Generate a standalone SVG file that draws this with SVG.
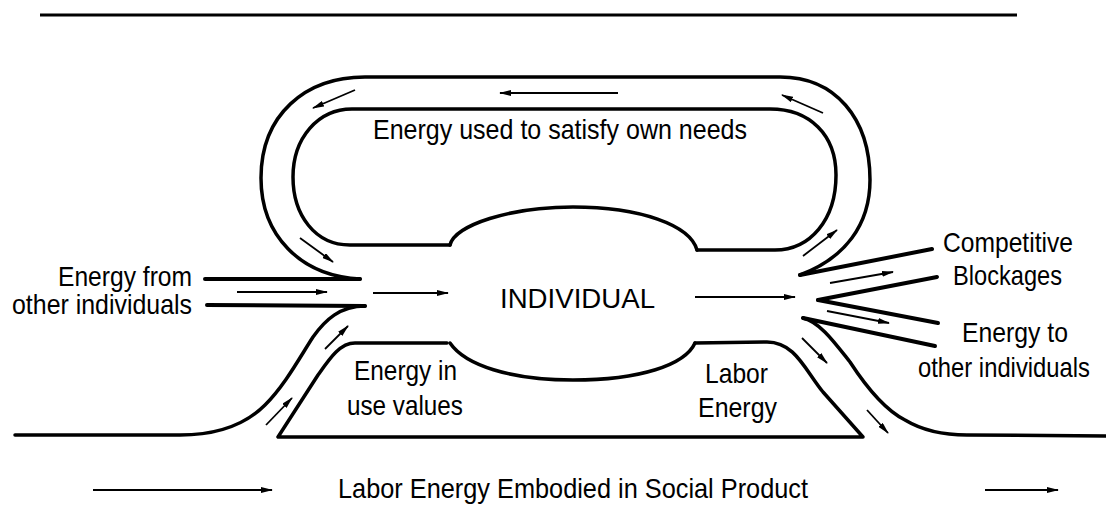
<svg xmlns="http://www.w3.org/2000/svg" width="1106" height="506" viewBox="0 0 1106 506">
<style>
.band{fill:none;stroke:#000;stroke-width:3.5;stroke-linecap:round;stroke-linejoin:round}
.thick{fill:none;stroke:#000;stroke-width:4;stroke-linecap:round}
.arr{fill:none;stroke:#000;stroke-width:1.8;marker-end:url(#ah)}
.lbl{font-family:"Liberation Sans",Arial,sans-serif;font-size:28px;fill:#000}
</style>
<defs>
<marker id="ah" viewBox="0 0 12 6" refX="11" refY="3" markerWidth="12" markerHeight="6" markerUnits="userSpaceOnUse" orient="auto">
<path d="M0,0 L12,3 L0,6 z" fill="#000"/>
</marker>
</defs>
<rect width="1106" height="506" fill="#fff"/>
<line x1="40" y1="15" x2="1017" y2="15" stroke="#000" stroke-width="3"/>

<g id="own-needs-loop">
<path class="band" d="M360,279 C300,276 261,235 261,178 C261,115 305,77 365,77 L780,77 C835,77 870,118 870,180 C870,225 845,258 800,275"/>
<path class="band" d="M450,245 L350,245 C315,245 293,215 293,177 C293,138 318,109 352,109 L770,109 C810,109 836,135 836,175 C836,220 810,250 775,250 L697,250"/>
<text class="lbl" x="373" y="139" font-size="27" textLength="374" lengthAdjust="spacingAndGlyphs">Energy used to satisfy own needs</text>
</g>

<g id="individual">
<path class="band" d="M450,245 C455,225 510,207 573,207 C640,207 690,225 697,250"/>
<path class="band" d="M450,343 C465,365 510,380 573,380 C640,380 685,365 695,343"/>
<text class="lbl" x="500" y="308" font-size="34" textLength="155" lengthAdjust="spacingAndGlyphs">INDIVIDUAL</text>
</g>

<g id="social-product">
<path class="band" d="M447,343 L355,343 C340,343 330,358 318,375 L278,437 L863,437 L823,392 C805,370 795,342 767,342 L695,343"/>
<text class="lbl" x="354" y="380" font-size="30" textLength="103" lengthAdjust="spacingAndGlyphs">Energy in</text>
<text class="lbl" x="347" y="415" font-size="30" textLength="116" lengthAdjust="spacingAndGlyphs">use values</text>
<text class="lbl" x="705" y="383" font-size="30" textLength="63" lengthAdjust="spacingAndGlyphs">Labor</text>
<text class="lbl" x="698" y="417" font-size="30" textLength="79" lengthAdjust="spacingAndGlyphs">Energy</text>
</g>

<g id="inflow">
<line class="thick" x1="205" y1="279" x2="360" y2="279"/>
<line class="thick" x1="207" y1="305" x2="365" y2="306"/>
<path class="band" d="M365,306 C340,306 325,320 313,337 C300,357 285,385 265,405 C245,425 215,435 180,435 L15,435"/>
<text class="lbl" x="58" y="286" font-size="26" textLength="134" lengthAdjust="spacingAndGlyphs">Energy from</text>
<text class="lbl" x="12" y="314" font-size="26" textLength="180" lengthAdjust="spacingAndGlyphs">other individuals</text>
</g>

<g id="outflow">
<line class="thick" x1="800" y1="275" x2="932" y2="249"/>
<line class="thick" x1="818" y1="300" x2="937" y2="277"/>
<line class="thick" x1="818" y1="300" x2="938" y2="323"/>
<line class="thick" x1="803" y1="318" x2="935" y2="346"/>
<path class="band" d="M803,318 C820,322 835,343 850,362 C865,385 885,410 905,420 C925,432 945,435 967,435 L1106,436"/>
<text class="lbl" x="943" y="252" textLength="130" lengthAdjust="spacingAndGlyphs">Competitive</text>
<text class="lbl" x="953" y="285" textLength="109" lengthAdjust="spacingAndGlyphs">Blockages</text>
<text class="lbl" x="962" y="342" textLength="106" lengthAdjust="spacingAndGlyphs">Energy to</text>
<text class="lbl" x="918" y="377" font-size="23" textLength="172" lengthAdjust="spacingAndGlyphs">other individuals</text>
</g>

<g id="connectors">
<line class="arr" x1="618" y1="93" x2="500" y2="93"/>
<line class="arr" x1="355" y1="90" x2="313" y2="108"/>
<line class="arr" x1="300" y1="238" x2="333" y2="262"/>
<line class="arr" x1="237" y1="292" x2="327" y2="292"/>
<line class="arr" x1="373" y1="293" x2="448" y2="293"/>
<line class="arr" x1="695" y1="297" x2="795" y2="297"/>
<line class="arr" x1="803" y1="256" x2="837" y2="230"/>
<line class="arr" x1="823" y1="113" x2="782" y2="95"/>
<line class="arr" x1="830" y1="283" x2="893" y2="272"/>
<line class="arr" x1="827" y1="311" x2="889" y2="323"/>
<line class="arr" x1="802" y1="338" x2="827" y2="363"/>
<line class="arr" x1="867" y1="410" x2="888" y2="433"/>
<line class="arr" x1="266" y1="425" x2="292" y2="398"/>
<line class="arr" x1="325" y1="349" x2="348" y2="326"/>
<line class="arr" x1="93" y1="490" x2="272" y2="490"/>
<line class="arr" x1="985" y1="490" x2="1058" y2="490"/>
</g>

<text class="lbl" x="338" y="498" font-size="27" textLength="470" lengthAdjust="spacingAndGlyphs">Labor Energy Embodied in Social Product</text>
</svg>
